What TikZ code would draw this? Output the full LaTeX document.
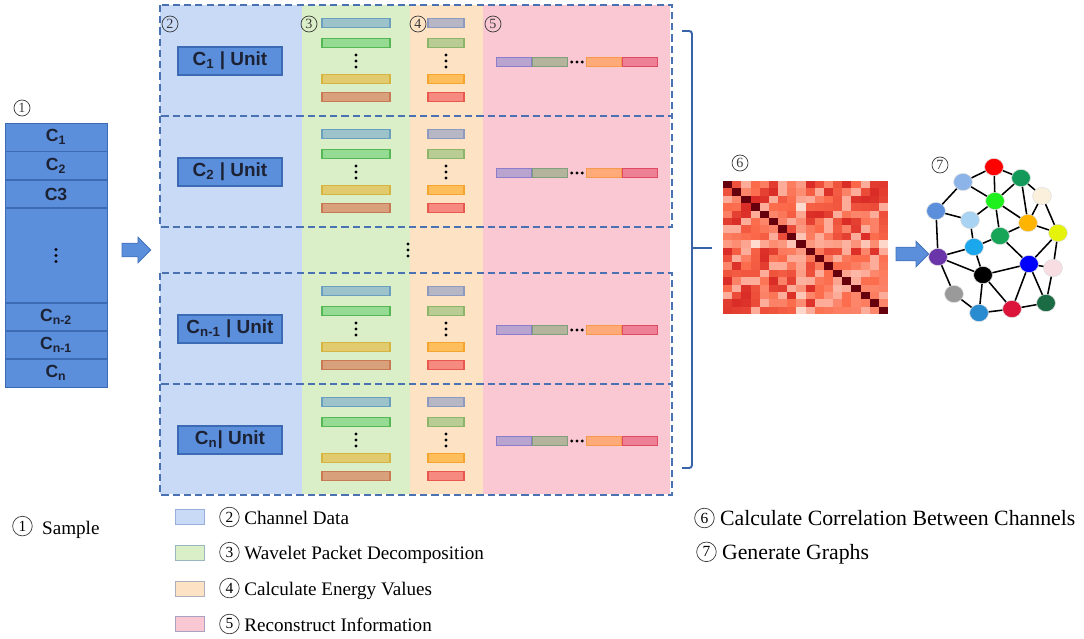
\documentclass[tikz,border=0pt]{standalone}
\usepackage{fontspec}
\setmainfont{Liberation Serif}
\setsansfont{Liberation Sans}
\usepackage{amsmath}
\usetikzlibrary{positioning,shapes.geometric,shapes.arrows,calc}

\definecolor{cellBlue}{HTML}{5B8EDB}
\definecolor{cellEdge}{HTML}{3D6BB3}
\definecolor{cellText}{HTML}{1C2233}
\definecolor{bgBlue}{HTML}{C8DAF6}
\definecolor{bgGreen}{HTML}{DAEFC8}
\definecolor{bgOrange}{HTML}{FDE3C4}
\definecolor{bgPink}{HTML}{F9C8D2}
\definecolor{frameBlue}{HTML}{4A72B2}
\definecolor{braceBlue}{HTML}{3A64AA}
\definecolor{numGray}{HTML}{3A3A3A}
\definecolor{arrowBlue}{HTML}{5B8EDB}
\definecolor{arrowEdge}{HTML}{4573BD}
% bars of the decomposition
\definecolor{gOneF}{HTML}{9CC3C9}\definecolor{gOneD}{HTML}{6A9FBF}
\definecolor{gTwoF}{HTML}{95DB93}\definecolor{gTwoD}{HTML}{55B855}
\definecolor{gThrF}{HTML}{E2CB6E}\definecolor{gThrD}{HTML}{D6B440}
\definecolor{gFouF}{HTML}{D9A07C}\definecolor{gFouD}{HTML}{C87A55}
\definecolor{eOneF}{HTML}{B7B6C4}\definecolor{eOneD}{HTML}{8E99C0}
\definecolor{eTwoF}{HTML}{B9CC93}\definecolor{eTwoD}{HTML}{8DB56A}
\definecolor{eThrF}{HTML}{FFBE5C}\definecolor{eThrD}{HTML}{F5A52E}
\definecolor{eFouF}{HTML}{F78A80}\definecolor{eFouD}{HTML}{E8584F}
\definecolor{rOneF}{HTML}{B9A3CF}\definecolor{rOneD}{HTML}{8C7CC9}
\definecolor{rTwoF}{HTML}{B4B39C}\definecolor{rTwoD}{HTML}{7FA07C}
\definecolor{rThrF}{HTML}{FFAA78}\definecolor{rThrD}{HTML}{F59A4A}
\definecolor{rFouF}{HTML}{EE8096}\definecolor{rFouD}{HTML}{E04A62}
% heat map
\definecolor{hmLow}{HTML}{FFEFE8}
\definecolor{hmMid}{HTML}{FB6A4A}
\definecolor{hmDeep}{HTML}{D42020}
\definecolor{hmHigh}{HTML}{67000D}
% graph nodes
\definecolor{nRed}{HTML}{FF0000}
\definecolor{nDkGreen}{HTML}{139A5B}
\definecolor{nLtBlueA}{HTML}{8DB4E8}
\definecolor{nLime}{HTML}{1EF01E}
\definecolor{nCream}{HTML}{FAF0DC}
\definecolor{nBlueMed}{HTML}{5B8FDB}
\definecolor{nLtBlueB}{HTML}{A9D3F2}
\definecolor{nOrange}{HTML}{FFB400}
\definecolor{nYellow}{HTML}{E5F20A}
\definecolor{nGreenMid}{HTML}{18A558}
\definecolor{nSky}{HTML}{1AA7EC}
\definecolor{nPurple}{HTML}{6A35A8}
\definecolor{nBlue}{HTML}{0000FF}
\definecolor{nPink}{HTML}{F8DDE3}
\definecolor{nGray}{HTML}{9A9A9A}
\definecolor{nForest}{HTML}{1B6B45}
\definecolor{nBlueBot}{HTML}{2A8CD0}
\definecolor{nCrimson}{HTML}{DC143C}

\tikzset{
  samplecell/.style={draw=cellEdge, fill=cellBlue, minimum width=2.55cm,
                     inner sep=0pt, line width=0.6pt, text=cellText,
                     font=\sffamily\bfseries\fontsize{12.5}{14}\selectfont},
  unitbox/.style={draw=cellEdge, fill=cellBlue, minimum width=2.6cm,
                  minimum height=0.7cm, inner sep=0pt, line width=0.8pt,
                  text=cellText, font=\sffamily\bfseries\fontsize{13.5}{15}\selectfont},
  rowframe/.style={draw=frameBlue, dash pattern=on 5pt off 3pt, line width=1.1pt},
  wpbar/.style={draw, line width=0.8pt, minimum width=1.7cm,
                minimum height=0.22cm, inner sep=0pt},
  enbar/.style={wpbar, minimum width=0.9cm},
  recbar/.style={wpbar, minimum width=0.875cm},
  stepnum/.style={circle, draw=numGray, line width=0.5pt, minimum size=0.4cm,
                  inner sep=0pt, text=numGray, font=\fontsize{10}{10}\selectfont},
  vdotsnode/.style={minimum width=0.15cm, minimum height=0.42cm, inner sep=0pt,
                    path picture={\foreach \k in {-1,0,1}
                      \fill (path picture bounding box.center) ++(0,\k*0.15cm) circle (0.042cm);}},
  hdotsnode/.style={minimum width=0.42cm, minimum height=0.15cm, inner sep=0pt,
                    path picture={\foreach \k in {-1,0,1}
                      \fill (path picture bounding box.center) ++(\k*0.13cm,0) circle (0.042cm);}},
  blockarrow/.style={single arrow, draw=arrowEdge, fill=arrowBlue,
                     line width=0.6pt, inner xsep=0pt, inner ysep=0.16cm,
                     single arrow head extend=0.15cm},
  gnode/.style={ellipse, draw=white!75!gray, line width=0.4pt,
                minimum width=0.47cm, minimum height=0.43cm, inner sep=0pt},
  gedge/.style={line width=1.1pt, black},
  bracket/.style={draw=braceBlue, line width=1.4pt, rounded corners=2pt},
  legbox/.style={draw, line width=0.6pt, minimum width=0.72cm,
                 minimum height=0.38cm, inner sep=0pt},
  legtext/.style={font=\fontsize{13.6}{16}\selectfont, anchor=west, inner sep=0pt},
  legtextbig/.style={legtext, font=\fontsize{15.5}{18}\selectfont},
}
\newcommand{\circnum}[1]{\tikz[baseline={([yshift=-0.07cm]cn.base)}]\node[circle,
  draw=numGray, line width=0.5pt, minimum size=0.49cm, inner sep=0pt, anchor=center,
  font=\fontsize{11}{11}\selectfont] (cn) {#1};}

\begin{document}
\begin{tikzpicture}[x=0.025cm, y=-0.025cm]
\useasboundingbox (0,0) rectangle (1084,638);

%% (1) Sample column
\node[stepnum] (num1) at (22,108) {1};
\node[samplecell, minimum height=0.7cm] (s1) at (56,137) {C\textsubscript{1}};
\node[samplecell, minimum height=0.7cm, below=0pt of s1] (s2) {C\textsubscript{2}};
\node[samplecell, minimum height=0.675cm, below=0pt of s2] (s3) {C3};
\node[samplecell, minimum height=2.35cm, below=0pt of s3] (sd) {};
\node[vdotsnode] (sdDots) at (sd) {};
\node[samplecell, minimum height=0.675cm, below=0pt of sd] (sn2) {C\textsubscript{n-2}};
\node[samplecell, minimum height=0.675cm, below=0pt of sn2] (sn1) {C\textsubscript{n-1}};
\node[samplecell, minimum height=0.7cm, below=0pt of sn1] (sn) {C\textsubscript{n}};

\node[blockarrow, minimum height=0.72cm] (arrIn) at (133,250) {};

%% column backgrounds
\fill[bgBlue] (160,5) rectangle (302,494);
\fill[bgGreen] (302,5) rectangle (410,494);
\fill[bgOrange] (410,5) rectangle (483,494);
\fill[bgPink] (483,5) rectangle (670,494);

\node[stepnum] (num2) at (170,24) {2};
\node[stepnum] (num3) at (309,24) {3};
\node[stepnum] (num4) at (418,24) {4};
\node[stepnum] (num5) at (493,24) {5};

%% one row per channel
\foreach \t/\lbl/\nm in {5/{C\textsubscript{1} | Unit}/1,
                         116/{C\textsubscript{2} | Unit}/2,
                         273/{C\textsubscript{n-1} | Unit}/3,
                         384/{C\textsubscript{n}| Unit}/4} {
  \draw[rowframe] (160,\t) rectangle (672,\t+111);
  \node[unitbox] (u\nm) at (230,\t+56) {\lbl};
  % wavelet packets
  \node[wpbar, draw=gOneD, fill=gOneF] (g\nm-1) at (356,\t+18) {};
  \node[wpbar, draw=gTwoD, fill=gTwoF] (g\nm-2) at (356,\t+38) {};
  \node[vdotsnode] (gd\nm) at (356,\t+56) {};
  \node[wpbar, draw=gThrD, fill=gThrF] (g\nm-3) at (356,\t+74) {};
  \node[wpbar, draw=gFouD, fill=gFouF] (g\nm-4) at (356,\t+92) {};
  % energy values
  \node[enbar, draw=eOneD, fill=eOneF] (e\nm-1) at (446,\t+18) {};
  \node[enbar, draw=eTwoD, fill=eTwoF] (e\nm-2) at (446,\t+38) {};
  \node[vdotsnode] (ed\nm) at (446,\t+56) {};
  \node[enbar, draw=eThrD, fill=eThrF] (e\nm-3) at (446,\t+74) {};
  \node[enbar, draw=eFouD, fill=eFouF] (e\nm-4) at (446,\t+92) {};
  % reconstruction strip
  \node[recbar, draw=rOneD, fill=rOneF] (r\nm-1) at (514,\t+57) {};
  \node[recbar, draw=rTwoD, fill=rTwoF, right=0pt of r\nm-1] (r\nm-2) {};
  \node[hdotsnode] (rd\nm) at (577,\t+57) {};
  \node[recbar, draw=rThrD, fill=rThrF] (r\nm-3) at (604,\t+57) {};
  \node[recbar, draw=rFouD, fill=rFouF, right=0pt of r\nm-3] (r\nm-4) {};
}
\node[vdotsnode] (midDots) at (408,250) {};

%% bracket
\coordinate (brTop) at (682,31);
\coordinate (brBot) at (682,468);
\coordinate (brMid) at (692,248);
\coordinate (brOut) at (712,248);
\draw[bracket] (brTop) -| (brBot -| brMid) -- (brBot);
\draw[bracket] (brMid) -- (brOut);

%% (6) correlation heat map
\node[stepnum] (num6) at (740,163) {6};
\foreach \i in {0,...,17} {
  \foreach \j in {0,...,17} {
    \pgfmathtruncatemacro{\a}{min(\i,\j)}
    \pgfmathtruncatemacro{\b}{max(\i,\j)}
    \pgfmathtruncatemacro{\v}{\a==\b ? 100 :
      ((\a==8 || \b==8) ? 8+30*abs(sin(\a*41+\b*97)) :
      (abs(sin(\a*29+\b*43))>0.94 ? 25 :
      ((\a>=10 && \a<=13 && \b>=12 && \b<=16) ? 20+30*abs(sin(\a*53+\b*19)) :
      40+36*abs(sin(\a*67+\b*131+\a*\b*17))^2)))}
    \ifnum\v<50
      \pgfmathtruncatemacro{\pc}{2*\v}
      \colorlet{cellc}{hmMid!\pc!hmLow}
    \else\ifnum\v<80
      \pgfmathtruncatemacro{\pc}{(\v-50)*10/3}
      \colorlet{cellc}{hmDeep!\pc!hmMid}
    \else
      \pgfmathtruncatemacro{\pc}{(\v-80)*5}
      \colorlet{cellc}{hmHigh!\pc!hmDeep}
    \fi\fi
    \fill[cellc] (723+\j*9.17,181+\i*7.4) rectangle ++(9.17,7.4);
  }
}
\coordinate (heatE) at (888,254);

\node[blockarrow, minimum height=0.82cm] (arrOut) at (909,254) {};

%% (7) graph
\node[stepnum] (num7) at (940,165) {7};
\node[gnode, fill=nRed] (vRed) at (994,167) {};
\node[gnode, fill=nDkGreen] (vDkGreen) at (1021,178) {};
\node[gnode, fill=nLtBlueA] (vLtA) at (963,182) {};
\node[gnode, fill=nLime] (vLime) at (995,201) {};
\node[gnode, fill=nCream] (vCream) at (1042,196) {};
\node[gnode, fill=nBlueMed] (vBlueMed) at (936,211) {};
\node[gnode, fill=nLtBlueB] (vLtB) at (970,220) {};
\node[gnode, fill=nOrange] (vOrange) at (1028,223) {};
\node[gnode, fill=nYellow] (vYellow) at (1058,233) {};
\node[gnode, fill=nGreenMid] (vGreenMid) at (1000,236) {};
\node[gnode, fill=nSky] (vSky) at (974,247) {};
\node[gnode, fill=nPurple] (vPurple) at (938,257) {};
\node[gnode, fill=nBlue] (vBlue) at (1029,264) {};
\node[gnode, fill=nPink] (vPink) at (1053,268) {};
\node[gnode, fill=black] (vBlack) at (983,275) {};
\node[gnode, fill=nGray] (vGray) at (954,294) {};
\node[gnode, fill=nForest] (vForest) at (1046,303) {};
\node[gnode, fill=nBlueBot] (vBlueBot) at (979,313) {};
\node[gnode, fill=nCrimson] (vCrimson) at (1012,309) {};

\foreach \p/\q in {vRed/vLtA, vRed/vDkGreen, vRed/vLime, vLtA/vLime,
                   vLtA/vBlueMed, vDkGreen/vLime, vDkGreen/vOrange,
                   vDkGreen/vCream, vCream/vOrange, vCream/vYellow,
                   vLime/vLtB, vLime/vOrange, vLime/vGreenMid,
                   vBlueMed/vLtB, vBlueMed/vPurple, vOrange/vGreenMid,
                   vOrange/vYellow, vGreenMid/vSky, vGreenMid/vBlue,
                   vYellow/vBlue, vYellow/vPink, vLtB/vSky, vSky/vPurple,
                   vSky/vBlack, vPurple/vBlack, vPurple/vGray, vBlack/vBlue,
                   vBlack/vCrimson, vBlack/vBlueBot, vBlue/vCrimson,
                   vBlue/vForest, vBlue/vPink, vPink/vForest, vGray/vBlueBot,
                   vBlueBot/vCrimson, vCrimson/vForest}
  \draw[gedge] (\p) -- (\q);

%% legend
\node[legtext] (lg1) at (12,527) {\circnum{1}\ \ Sample};
\node[legbox, fill=bgBlue, draw=bgBlue!60!frameBlue] (sw2) at (190,517) {};
\node[legbox, fill=bgGreen, draw=bgGreen!55!frameBlue] (sw3) at (190,553) {};
\node[legbox, fill=bgOrange, draw=bgOrange!55!frameBlue] (sw4) at (190,589) {};
\node[legbox, fill=bgPink, draw=bgPink!55!frameBlue] (sw5) at (190,624) {};
\node[legtext] (lg2) at (219,517) {\circnum{2} Channel Data};
\node[legtext] (lg3) at (219,553) {\circnum{3} Wavelet Packet Decomposition};
\node[legtext] (lg4) at (219,589) {\circnum{4} Calculate Energy Values};
\node[legtext] (lg5) at (219,624) {\circnum{5} Reconstruct Information};
\node[legtextbig] (lg6) at (694,518) {\circnum{6} Calculate Correlation Between Channels};
\node[legtextbig] (lg7) at (696,553) {\circnum{7} Generate Graphs};
\end{tikzpicture}
\end{document}
